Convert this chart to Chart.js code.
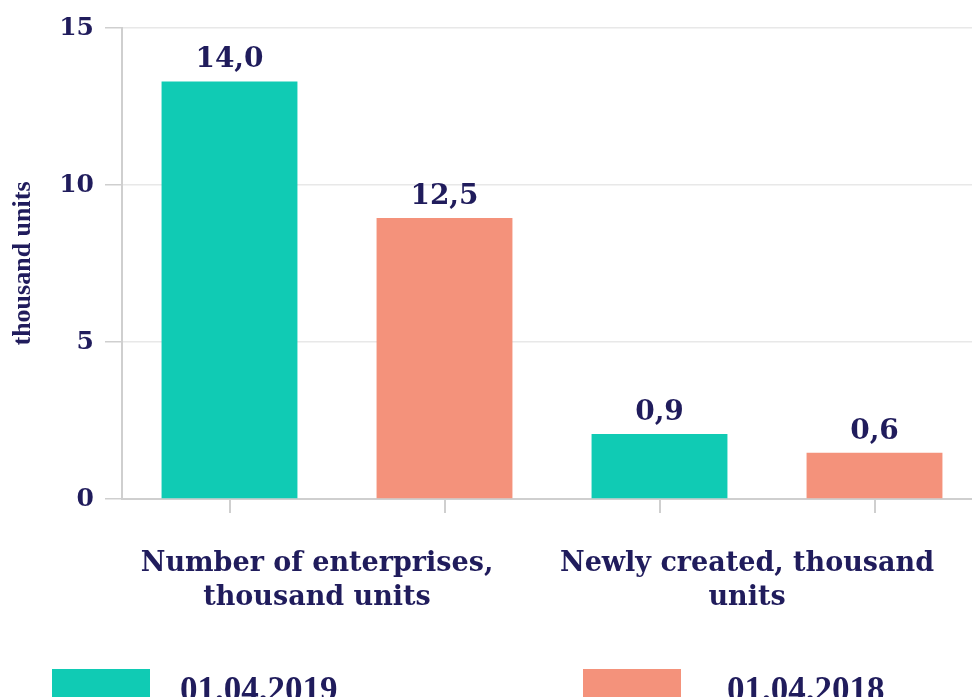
<!DOCTYPE html>
<html><head><meta charset="utf-8">
<script src="https://cdn.jsdelivr.net/npm/chart.js@4.4.1/dist/chart.umd.min.js"></script>
<style>html,body{margin:0;padding:0;background:#fff;overflow:hidden;width:972px;height:697px;}</style>
</head><body>
<canvas id="c" width="982" height="697"></canvas>
<script>
// ---- data ----
const barSlots = ['s1', 's2', 's3', 's4'];
const groupLabels = [['Number of enterprises,', 'thousand units'], ['Newly created, thousand', 'units']];
const seriesNames = ['01.04.2019', '01.04.2018'];
const values2019 = [13.3, null, 2.07, null];
const values2018 = [null, 8.95, null, 1.47];
const valueLabels2019 = ['14,0', null, '0,9', null];
const valueLabels2018 = [null, '12,5', null, '0,6'];
const yTickValues = [0, 5, 10, 15];
const yTitle = 'thousand units';

const TEAL = '#10CBB4';
const SALMON = '#F4927B';
const INK = '#201c5c';
const AXIS = '#cfcfcf';
const GRID = '#e8e8e8';

const valueLabelPlugin = {
  id: 'valueLabels',
  afterDatasetsDraw(chart) {
    const ctx = chart.ctx;
    ctx.save();
    ctx.font = 'bold 28px "DejaVu Serif"';
    ctx.fillStyle = INK;
    ctx.textAlign = 'center';
    ctx.textBaseline = 'alphabetic';
    [valueLabels2019, valueLabels2018].forEach((labels, di) => {
      const meta = chart.getDatasetMeta(di);
      meta.data.forEach((bar, i) => {
        if (labels[i] == null) return;
        ctx.fillText(labels[i], bar.x, bar.y - 14);
      });
    });
    ctx.restore();
  }
};

const legendPlugin = {
  id: 'bottomLegend',
  afterDraw(chart) {
    const ctx = chart.ctx;
    const boxX = [52, 583];
    const textX = [180, 727];
    ctx.save();
    ctx.font = 'bold 35px "Liberation Serif"';
    ctx.textAlign = 'left';
    ctx.textBaseline = 'alphabetic';
    chart.data.datasets.forEach((ds, i) => {
      ctx.fillStyle = ds.backgroundColor;
      ctx.fillRect(boxX[i], 669, 98, 34);
      ctx.fillStyle = INK;
      ctx.fillText(ds.label, textX[i], 701);
    });
    ctx.restore();
  }
};

function noSidePadding(scale) {
  scale.paddingLeft = 0;
  scale.paddingRight = 0;
}

new Chart(document.getElementById('c'), {
  type: 'bar',
  data: {
    labels: barSlots,
    datasets: [
      { label: seriesNames[0], data: values2019, backgroundColor: TEAL },
      { label: seriesNames[1], data: values2018, backgroundColor: SALMON }
    ]
  },
  options: {
    responsive: false,
    animation: false,
    devicePixelRatio: 1,
    skipNull: true,
    categoryPercentage: 0.79,
    barPercentage: 0.8,
    layout: { padding: { top: 28, right: 0, left: 0, bottom: 74 } },
    plugins: { legend: { display: false }, tooltip: { enabled: false } },
    scales: {
      x: {
        position: 'bottom',
        grid: { display: true, offset: false, drawOnChartArea: false, drawTicks: true, tickLength: 14, tickColor: AXIS, lineWidth: 2 },
        border: { display: true, color: AXIS, width: 2 },
        ticks: { display: false },
        afterFit: noSidePadding
      },
      x2: {
        type: 'category',
        position: 'bottom',
        labels: groupLabels,
        offset: true,
        grid: { display: false },
        border: { display: false },
        ticks: {
          color: INK,
          font: { family: '"DejaVu Serif"', weight: 'bold', size: 27, lineHeight: 1.25 },
          maxRotation: 0, minRotation: 0, autoSkip: false,
          padding: 26,
          labelOffset: -20
        },
        afterFit(scale) { scale.height = 110; noSidePadding(scale); }
      },
      y: {
        min: 0, max: 15,
        afterBuildTicks(scale) { scale.ticks = yTickValues.map(v => ({ value: v })); },
        grid: { color: GRID, lineWidth: 1.5, tickLength: 17, tickColor: AXIS },
        border: { display: true, color: AXIS, width: 2 },
        ticks: {
          color: INK,
          padding: 11,
          font: { family: '"DejaVu Serif"', weight: 'bold', size: 25 }
        },
        title: {
          display: true,
          text: yTitle,
          color: INK,
          font: { family: '"Liberation Serif"', weight: 'bold', size: 26 },
          padding: { top: 8, bottom: 0 }
        },
        afterFit(scale) { scale.width = 122; }
      }
    }
  },
  plugins: [valueLabelPlugin, legendPlugin]
});
</script>
</body></html>
